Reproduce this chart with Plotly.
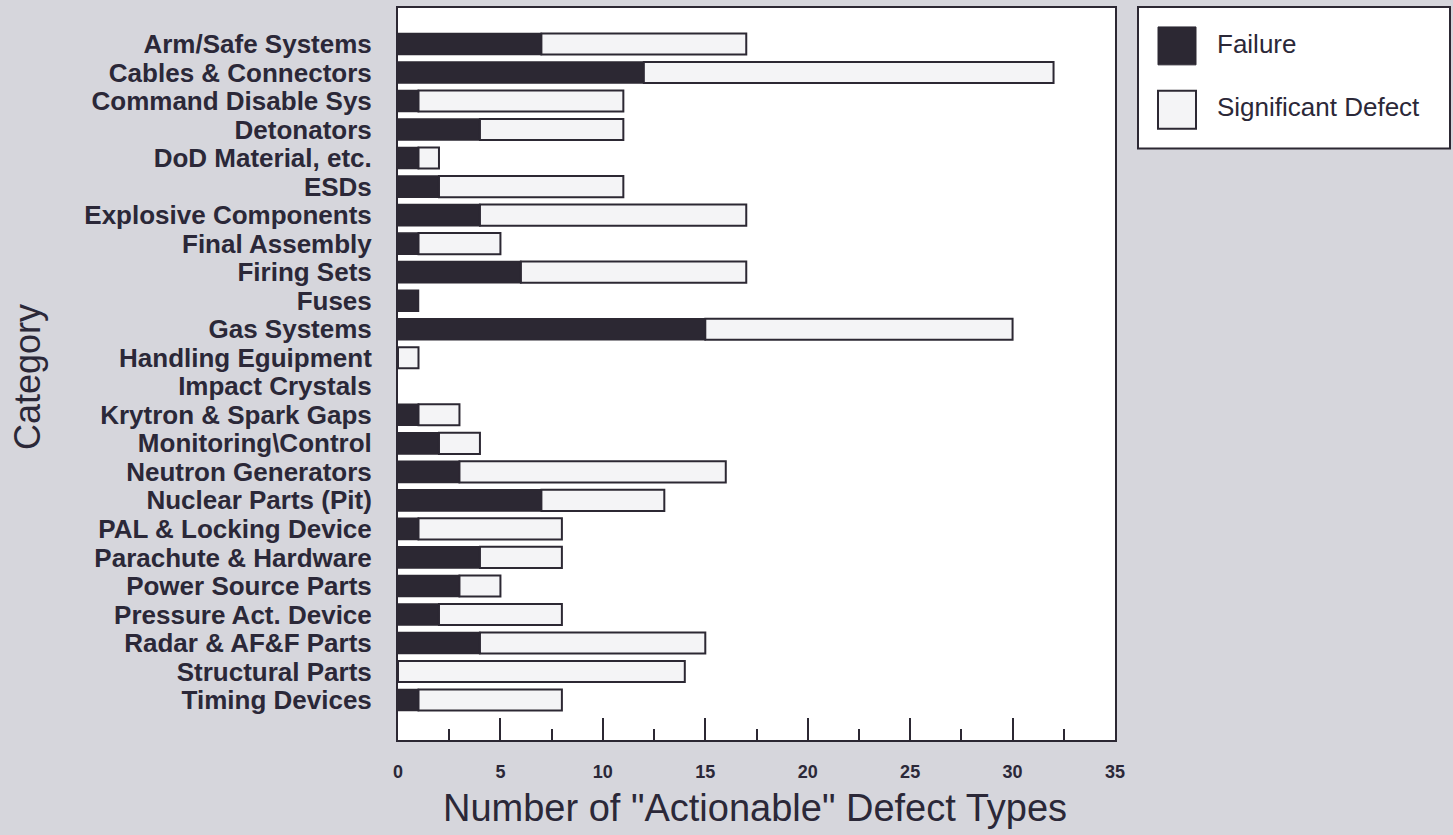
import plotly.graph_objects as go

categories = ["Arm/Safe Systems", "Cables & Connectors", "Command Disable Sys", "Detonators",
              "DoD Material, etc.", "ESDs", "Explosive Components", "Final Assembly",
              "Firing Sets", "Fuses", "Gas Systems", "Handling Eguipment", "Impact Crystals",
              "Krytron & Spark Gaps", "Monitoring\\Control", "Neutron Generators",
              "Nuclear Parts (Pit)", "PAL & Locking Device", "Parachute & Hardware",
              "Power Source Parts", "Pressure Act. Device", "Radar & AF&F Parts",
              "Structural Parts", "Timing Devices"]
failure = [7, 12, 1, 4, 1, 2, 4, 1, 6, 1, 15, 0, 0, 1, 2, 3, 7, 1, 4, 3, 2, 4, 0, 1]
significant = [10, 20, 10, 7, 1, 9, 13, 4, 11, 0, 15, 1, 0, 2, 2, 13, 6, 7, 4, 2, 6, 11, 14, 7]
x_ticks = [0, 5, 10, 15, 20, 25, 30, 35]

DARK = "#2c2833"
TEXT = "#2b2838"
FONT = "Liberation Sans, Arial"
W, H = 1453, 835
L, R, T, B = 398, 1115, 6, 740

fig = go.Figure()
fig.add_trace(go.Bar(y=categories, x=failure, orientation="h", name="Failure",
                     marker=dict(color=DARK,
                                 line=dict(color=DARK, width=[1.5 if v > 0 else 0 for v in failure])),
                     width=0.74))
fig.add_trace(go.Bar(y=categories, x=significant, orientation="h", name="Significant Defect",
                     base=failure,
                     marker=dict(color="#f4f4f6",
                                 line=dict(color=DARK, width=[2 if v > 0 else 0 for v in significant])),
                     width=0.74))

def px2paper_x(px):
    return (px - L) / (R - L)

def px2paper_y(py):
    return (B - py) / (B - T)

# manual legend box
shapes = [
    dict(type="rect", xref="paper", yref="paper",
         x0=px2paper_x(1138), x1=px2paper_x(1450), y0=px2paper_y(147), y1=px2paper_y(5),
         fillcolor="white", line=dict(color=DARK, width=2)),
    dict(type="rect", xref="paper", yref="paper",
         x0=px2paper_x(1158), x1=px2paper_x(1196), y0=px2paper_y(63), y1=px2paper_y(25),
         fillcolor=DARK, line=dict(color=DARK, width=1)),
    dict(type="rect", xref="paper", yref="paper",
         x0=px2paper_x(1158), x1=px2paper_x(1196), y0=px2paper_y(127), y1=px2paper_y(89),
         fillcolor="#f4f4f6", line=dict(color=DARK, width=2)),
]
annotations = [
    dict(text="Failure", xref="paper", yref="paper", x=px2paper_x(1215), y=px2paper_y(42),
         xanchor="left", yanchor="middle", showarrow=False,
         font=dict(family=FONT, size=26, color=TEXT)),
    dict(text="Significant Defect", xref="paper", yref="paper", x=px2paper_x(1215), y=px2paper_y(105),
         xanchor="left", yanchor="middle", showarrow=False,
         font=dict(family=FONT, size=26, color=TEXT)),
    dict(text="Category", xref="paper", yref="paper", x=px2paper_x(28), y=px2paper_y(376),
         xanchor="center", yanchor="middle", showarrow=False, textangle=-90,
         font=dict(family=FONT, size=36, color=TEXT)),
    dict(text='Number of "Actionable" Defect Types', xref="paper", yref="paper",
         x=px2paper_x(755), y=px2paper_y(808),
         xanchor="center", yanchor="middle", showarrow=False,
         font=dict(family=FONT, size=38, color=TEXT)),
]

fig.update_layout(
    width=W, height=H,
    barmode="overlay",
    showlegend=False,
    paper_bgcolor="#d6d6dc",
    plot_bgcolor="white",
    margin=dict(l=L, r=W - R, t=T, b=H - B, pad=0),
    shapes=shapes,
    annotations=annotations,
    xaxis=dict(range=[0, 35], tickvals=x_ticks, ticks="inside", ticklen=22, tickwidth=1.5,
               tickcolor=DARK, showgrid=False, zeroline=False, showline=True, linecolor=DARK,
               linewidth=2, mirror=True, ticklabelstandoff=14,
               minor=dict(tick0=2.5, dtick=5, ticks="inside", ticklen=11, tickwidth=1.5, tickcolor=DARK),
               tickfont=dict(family=FONT, size=18, color=TEXT, weight="bold")),
    yaxis=dict(categoryorder="array", categoryarray=categories, range=[24.4, -1.26],
               tickmode="array", tickvals=categories, ticktext=categories,
               showgrid=False, zeroline=False, showline=True, linecolor=DARK, linewidth=2,
               mirror=True, ticks="", ticklabelstandoff=19,
               tickfont=dict(family=FONT, size=26, color=TEXT, weight="bold")),
)

fig.write_html("out.html", post_script="document.body.style.margin='0';",
               config={"displayModeBar": False})
